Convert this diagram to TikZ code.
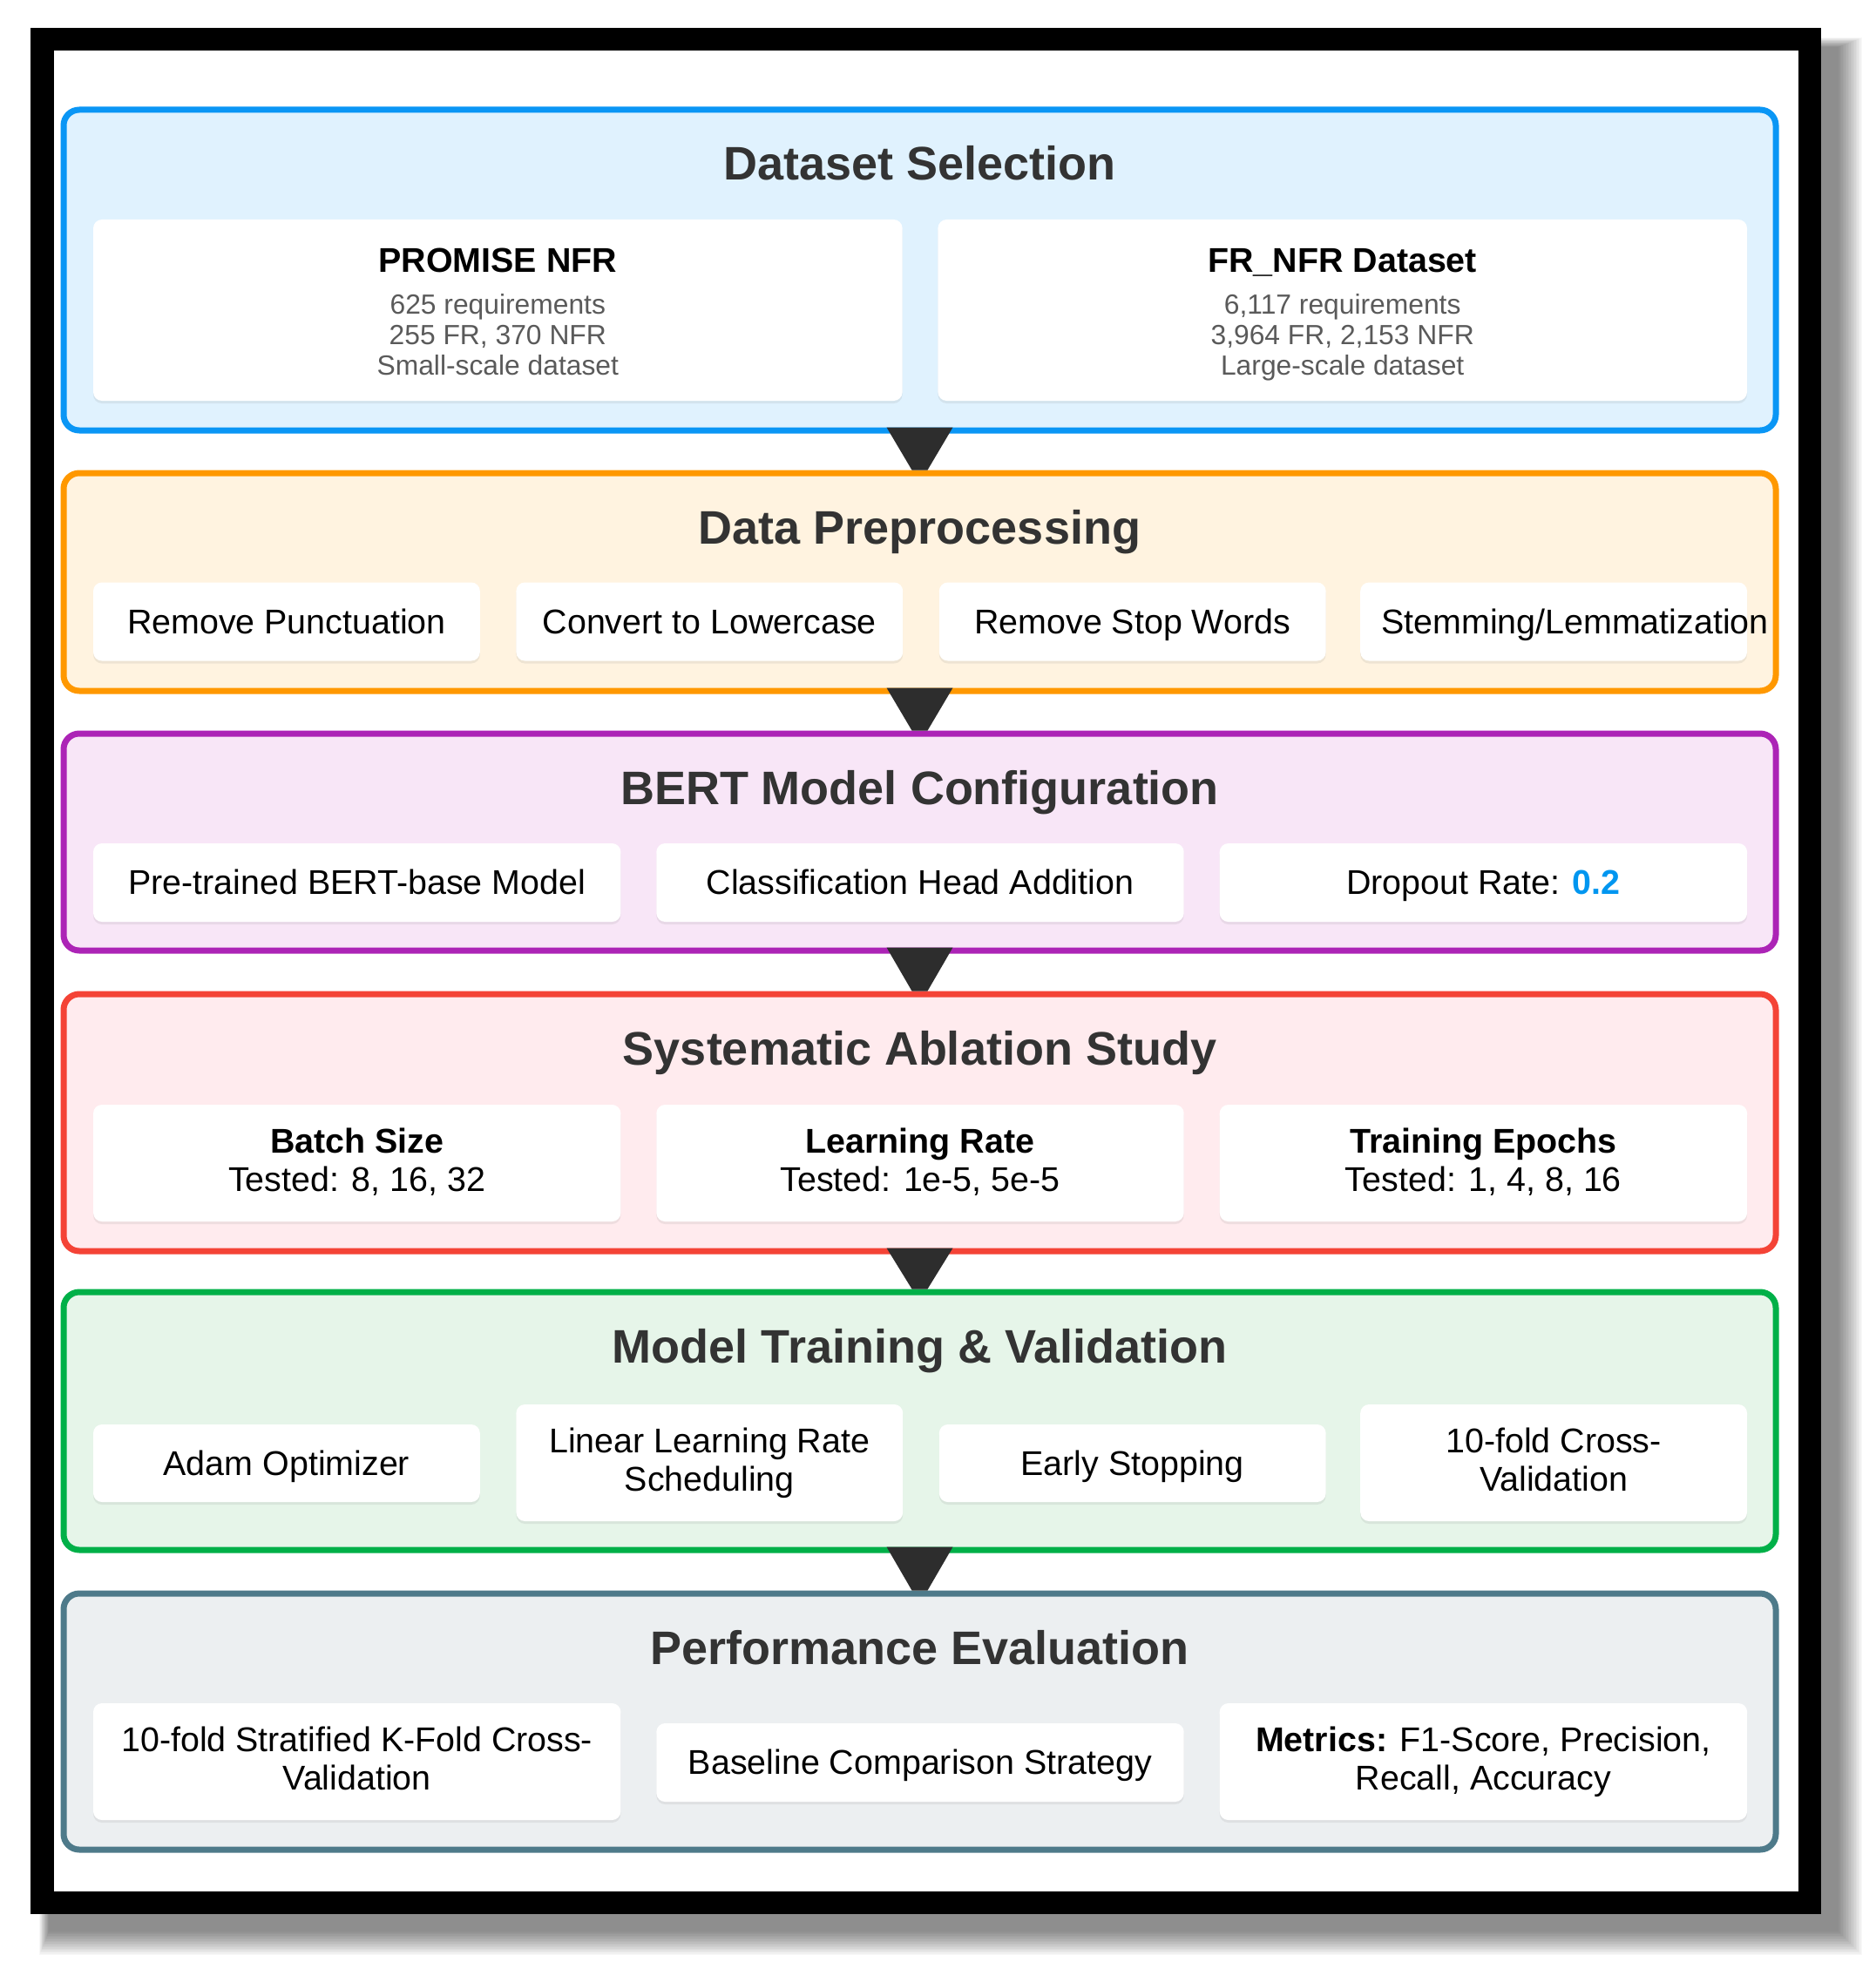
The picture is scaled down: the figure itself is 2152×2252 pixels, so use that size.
\documentclass[tikz,border=0pt]{standalone}
\usepackage{fontspec}
\setmainfont{Liberation Sans}
\usetikzlibrary{calc,shadows}
\definecolor{selbd}{RGB}{10,150,245}
\definecolor{selbg}{RGB}{224,242,254}
\definecolor{prebd}{RGB}{255,152,0}
\definecolor{prebg}{RGB}{255,243,224}
\definecolor{bertbd}{RGB}{172,36,182}
\definecolor{bertbg}{RGB}{248,230,247}
\definecolor{ablbd}{RGB}{244,67,54}
\definecolor{ablbg}{RGB}{255,235,238}
\definecolor{trnbd}{RGB}{0,176,72}
\definecolor{trnbg}{RGB}{230,245,233}
\definecolor{evabd}{RGB}{78,122,138}
\definecolor{evabg}{RGB}{236,239,241}
\definecolor{ttlcol}{RGB}{51,51,51}
\definecolor{subgrey}{RGB}{90,90,90}
\definecolor{flowcol}{RGB}{45,45,45}
\definecolor{accent}{RGB}{0,150,240}
\newcommand{\lnst}{\vrule height .905em depth .212em width 0pt}
\newcommand{\dsub}[1]{{\color{subgrey}\fontsize{15.9}{17.5}\selectfont #1}}
\tikzset{
  panel/.style={draw,line width=3.5pt,rounded corners=9pt,minimum width=982.5pt,inner sep=0pt,outer sep=0pt},
  ttl/.style={anchor=base,inner sep=0pt,text=ttlcol,font=\fontsize{27}{32}\selectfont\bfseries},
  item/.style={fill=white,rounded corners=5pt,inner xsep=12pt,inner ysep=0pt,align=center,
    font=\fontsize{19.7}{22}\selectfont,execute at begin node=\lnst,execute at end node=\lnst,
    drop shadow={shadow xshift=0pt,shadow yshift=-1.5pt,opacity=0.13}},
  quad/.style={item,minimum width=221.9pt,minimum height=45pt},
  trio/.style={item,minimum width=302.7pt,minimum height=45pt},
  duo/.style={item,minimum width=464.3pt,minimum height=104pt},
  tall/.style={minimum height=67pt},
  flow/.style={fill=flowcol},
}
\begin{document}
\begin{tikzpicture}[x=0.5pt,y=-0.5pt]
  \useasboundingbox (0,0) rectangle (2152,2252);
  \fill[white] (0,0) rectangle (2152,2252);
  % frame with its shadow
  \foreach \s in {0,1.5,...,27}
    \fill[black,opacity=0.027] (56-0.4*\s,54-0.4*\s) rectangle (2110+\s,2217+\s);
  \fill[black] (35,32) rectangle (2090,2197);
  \fill[white] (62,58) rectangle (2064,2171);
  % stages
  \node[panel,draw=selbd,fill=selbg,minimum height=184pt] (sel) at (1055.5,310) {};
  \node[panel,draw=prebd,fill=prebg,minimum height=125pt] (pre) at (1055.5,668) {};
  \node[panel,draw=bertbd,fill=bertbg,minimum height=124.5pt] (bert) at (1055.5,966.5) {};
  \node[panel,draw=ablbd,fill=ablbg,minimum height=147.5pt] (abl) at (1055.5,1288.5) {};
  \node[panel,draw=trnbd,fill=trnbg,minimum height=148pt] (trn) at (1055.5,1631) {};
  \node[panel,draw=evabd,fill=evabg,minimum height=147pt] (eva) at (1055.5,1976) {};
  \node[ttl] (selT) at ([yshift=-40.5pt]sel.north) {Dataset Selection};
  \node[ttl] (preT) at ([yshift=-40.5pt]pre.north) {Data Preprocessing};
  \node[ttl] (bertT) at ([yshift=-40.5pt]bert.north) {BERT Model Configuration};
  \node[ttl] (ablT) at ([yshift=-40.5pt]abl.north) {Systematic Ablation Study};
  \node[ttl] (trnT) at ([yshift=-40.5pt]trn.north) {Model Training \& Validation};
  \node[ttl] (evaT) at ([yshift=-40.5pt]eva.north) {Performance Evaluation};
  % dataset selection
  \node[duo] (promise) at (571.3,356) {\vrule height 20pt width 0pt\textbf{PROMISE NFR}\\[2pt]\dsub{625 requirements}\\[-4.5pt]\dsub{255 FR, 370 NFR}\\[-4.5pt]\dsub{Small-scale dataset}};
  \node[duo] (frnfr) at (1540.7,356) {\vrule height 20pt width 0pt\textbf{FR\_NFR Dataset}\\[2pt]\dsub{6,117 requirements}\\[-4.5pt]\dsub{3,964 FR, 2,153 NFR}\\[-4.5pt]\dsub{Large-scale dataset}};
  % preprocessing
  \node[quad] (punct) at (328.9,713.5) {Remove Punctuation};
  \node[quad] (lower) at (814.3,713.5) {Convert to Lowercase};
  \node[quad] (stop) at (1299.7,713.5) {Remove Stop Words};
  \node[quad] (stem) at (1783.1,713.5) {\makebox[197.9pt][l]{Stemming/Lemmatization}};
  % model configuration
  \node[trio] (base) at (409.7,1013) {Pre-trained BERT-base Model};
  \node[trio] (head) at (1056,1013) {Classification Head Addition};
  \node[trio] (drop) at (1702.4,1013) {Dropout Rate: \textcolor{accent}{\textbf{0.2}}};
  % ablation
  \node[trio,tall] (batch) at (409.7,1335) {\textbf{Batch Size}\\Tested: 8, 16, 32};
  \node[trio,tall] (lrate) at (1056,1335) {\textbf{Learning Rate}\\Tested: 1e-5, 5e-5};
  \node[trio,tall] (epoch) at (1702.4,1335) {\textbf{Training Epochs}\\Tested: 1, 4, 8, 16};
  % training
  \node[quad,minimum height=44.5pt] (adam) at (328.9,1679.5) {Adam Optimizer};
  \node[quad,tall] (sched) at (814.3,1679) {Linear Learning Rate\\Scheduling};
  \node[quad,minimum height=44.5pt] (early) at (1299.7,1679.5) {Early Stopping};
  \node[quad,tall] (cv) at (1783.1,1679) {10-fold Cross-\\Validation};
  % evaluation
  \node[trio,tall] (kfold) at (409.7,2022) {10-fold Stratified K-Fold Cross-\\Validation};
  \node[trio] (basecmp) at (1056,2023) {Baseline Comparison Strategy};
  \node[trio,tall] (metric) at (1702.4,2022) {\textbf{Metrics:} F1-Score, Precision,\\Recall, Accuracy};
  % flow marks between stages
  \fill[flow] ($(sel.south)+(-38,-3.5)$) -- ($(sel.south)+(38,-3.5)$) -- ($(pre.north)+(9,-3.5)$) -- ($(pre.north)+(-9,-3.5)$) -- cycle;
  \fill[flow] ($(pre.south)+(-38,-3.5)$) -- ($(pre.south)+(38,-3.5)$) -- ($(bert.north)+(9,-3.5)$) -- ($(bert.north)+(-9,-3.5)$) -- cycle;
  \fill[flow] ($(bert.south)+(-38,-3.5)$) -- ($(bert.south)+(38,-3.5)$) -- ($(abl.north)+(9,-3.5)$) -- ($(abl.north)+(-9,-3.5)$) -- cycle;
  \fill[flow] ($(abl.south)+(-38,-3.5)$) -- ($(abl.south)+(38,-3.5)$) -- ($(trn.north)+(9,-3.5)$) -- ($(trn.north)+(-9,-3.5)$) -- cycle;
  \fill[flow] ($(trn.south)+(-38,-3.5)$) -- ($(trn.south)+(38,-3.5)$) -- ($(eva.north)+(9,-3.5)$) -- ($(eva.north)+(-9,-3.5)$) -- cycle;
\end{tikzpicture}
\end{document}
